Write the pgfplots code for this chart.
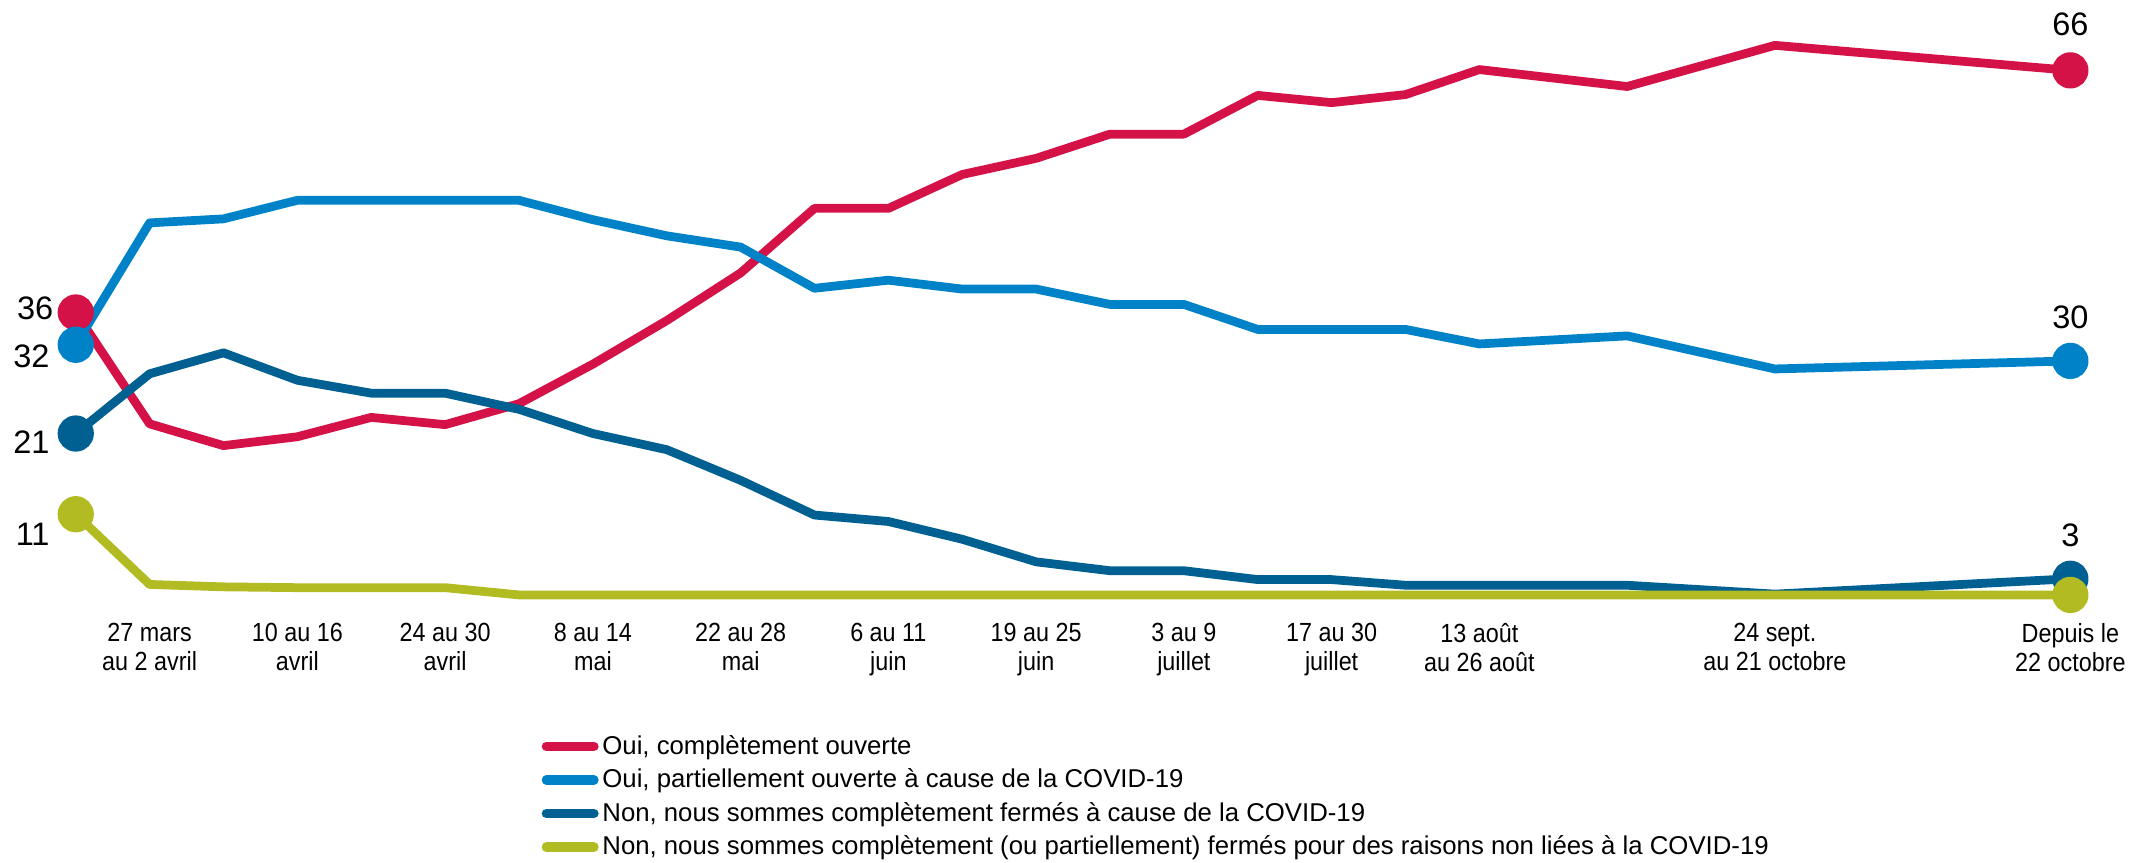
\documentclass[border=0pt]{standalone}
\usepackage{fontspec}
\setmainfont{Liberation Sans}
\newfontfamily\etroit{Liberation Sans}[FakeStretch=0.89]
\usepackage{pgfplots}
\pgfplotsset{compat=1.18}

\definecolor{rouge}{HTML}{D41248}
\definecolor{bleu}{HTML}{0082C8}
\definecolor{marine}{HTML}{006091}
\definecolor{vertolive}{HTML}{B2BC22}

\pgfplotsset{
  serie/.style={#1, line width=3.5pt, line join=round, mark=*, mark indices={1,23},
    mark size=5.5pt, mark options={solid, fill=#1, draw=none}},
}

\begin{document}
\begin{tikzpicture}
\useasboundingbox (-30.3pt,-104pt) rectangle (822.1pt,241.2pt);
\begin{axis}[
  x=29.55pt, y=3.228pt,
  xmin=0, xmax=27, ymin=0, ymax=66,
  axis x line=bottom, axis y line=left,
  axis line style={draw=none},
  major tick length=0pt,
  ytick=\empty,
  xtick={1,3,5,7,9,11,13,15,17,19,23,27},
  xticklabels={{27 mars\\au 2 avril},{10 au 16\\avril},{24 au 30\\avril},{8 au 14\\mai},
    {22 au 28\\mai},{6 au 11\\juin},{19 au 25\\juin},{3 au 9\\juillet},{17 au 30\\juillet},
    {13 août\\au 26 août},{24 sept.\\au 21 octobre},{Depuis le\\22 octobre}},
  xticklabel style={align=center, inner sep=0pt, yshift=-8pt,
    font=\etroit\fontsize{10.5}{11.6}\selectfont},
  clip=false,
  legend style={at={(axis cs:6.3,-16.3)}, anchor=north west, draw=none, fill=none,
    inner sep=0pt, row sep=4.35pt, font=\fontsize{10.3}{12}\selectfont,
    nodes={inner sep=0pt},
    /tikz/every odd column/.append style={column sep=1.5pt}},
  legend cell align=left,
  legend image code/.code={\draw[#1, line width=3.8pt, line cap=round] (1.9pt,0pt) -- (20.9pt,0pt);},
]
\addplot[serie=rouge] coordinates {
  (0,36) (1,22.2) (2,19.5) (3,20.6) (4,23.0) (5,22.1) (6,24.7) (7,29.6) (8,35.0) (9,40.9)
  (10,48.9) (11,48.9) (12,53.1) (13,55.1) (14,58.1) (15,58.1) (16,62.9) (17,62.0) (18,63.0)
  (19,66.1) (21,64.0) (23,69.1) (27,66)
};
\addlegendentry{Oui, complètement ouverte}
\addplot[serie=bleu] coordinates {
  (0,32) (1,47.1) (2,47.6) (3,49.9) (4,49.9) (5,49.9) (6,49.9) (7,47.5) (8,45.5) (9,44.1)
  (10,39.0) (11,40.0) (12,38.9) (13,38.9) (14,37.0) (15,37.0) (16,33.9) (17,33.9) (18,33.9)
  (19,32.1) (21,33.1) (23,29.0) (27,30)
};
\addlegendentry{Oui, partiellement ouverte à cause de la COVID-19}
\addplot[serie=marine] coordinates {
  (0,21) (1,28.4) (2,31.0) (3,27.6) (4,26.0) (5,26.0) (6,24.0) (7,21.0) (8,19.0) (9,15.2)
  (10,10.9) (11,10.1) (12,7.9) (13,5.1) (14,4.0) (15,4.0) (16,2.9) (17,2.9) (18,2.2)
  (19,2.2) (21,2.2) (23,1.1) (27,3)
};
\addlegendentry{Non, nous sommes complètement fermés à cause de la COVID-19}
\addplot[serie=vertolive] coordinates {
  (0,11) (1,2.3) (2,2.0) (3,1.9) (4,1.9) (5,1.9) (6,1.0) (7,1.0) (8,1.0) (9,1.0)
  (10,1.0) (11,1.0) (12,1.0) (13,1.0) (14,1.0) (15,1.0) (16,1.0) (17,1.0) (18,1.0)
  (19,1.0) (21,1.0) (23,1.0) (27,1)
};
\addlegendentry{Non, nous sommes complètement (ou partiellement) fermés pour des raisons non liées à la COVID-19}

% etiquettes de valeurs
\begin{scope}[font=\fontsize{13}{15}\selectfont, inner sep=0pt]
\node[anchor=east, xshift=-8.8pt, yshift=1.5pt] at (axis cs:0,36) {36};
\node[anchor=east, xshift=-10.3pt, yshift=-4.5pt] at (axis cs:0,32) {32};
\node[anchor=east, xshift=-10.3pt, yshift=-3.4pt] at (axis cs:0,21) {21};
\node[anchor=east, xshift=-10.3pt, yshift=-8pt] at (axis cs:0,11) {11};
\draw[gray, line width=0.6pt] ([xshift=-6pt]axis cs:0,36) -- (axis cs:0,36);
\node[yshift=18.5pt] at (axis cs:27,66) {66};
\node[yshift=17.6pt] at (axis cs:27,30) {30};
\node[yshift=17.5pt] at (axis cs:27,3) {3};
\end{scope}
\end{axis}
\end{tikzpicture}
\end{document}
